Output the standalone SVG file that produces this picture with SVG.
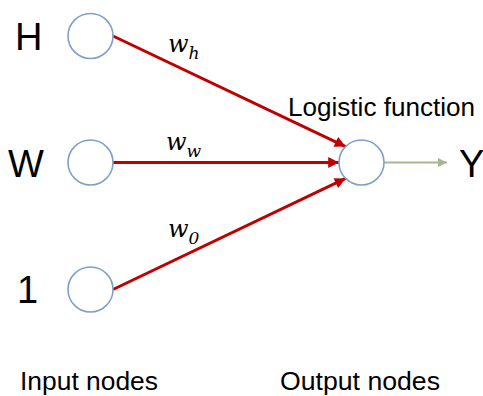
<svg xmlns="http://www.w3.org/2000/svg" width="483" height="396" viewBox="0 0 483 396">
<style>
.node{fill:#ffffff;stroke:#7F9FCB;stroke-width:1.6}
.big{font-family:"Liberation Sans",Arial,sans-serif;font-size:38px;fill:#000}
.lbl{font-family:"Liberation Sans",Arial,sans-serif;font-size:25px;fill:#000}
.w{font-family:"DejaVu Serif","Liberation Serif",serif;font-style:italic;font-size:24px;fill:#000}
.sub{font-size:17px}
.red{stroke:#C00000;stroke-width:3;fill:none}
.grn{stroke:#A3BA8E;stroke-width:2;fill:none}
</style>
<defs>
<marker id="ar" viewBox="0 0 10 10" refX="10" refY="5" markerWidth="4.2" markerHeight="3.6" orient="auto" markerUnits="strokeWidth">
<path d="M0,0 L10,5 L0,10 Z" fill="#C00000"/>
</marker>
<marker id="ag" viewBox="0 0 10 10" refX="10" refY="5" markerWidth="5" markerHeight="4.5" orient="auto" markerUnits="strokeWidth">
<path d="M0,0 L10,5 L0,10 Z" fill="#A3BA8E"/>
</marker>
</defs>
<g id="connectors">
<line class="red" x1="113" y1="36" x2="345.6" y2="146.6" marker-end="url(#ar)"/>
<line class="red" x1="113" y1="162.5" x2="339" y2="162.5" marker-end="url(#ar)"/>
<line class="red" x1="113" y1="289.5" x2="345.6" y2="178.4" marker-end="url(#ar)"/>
<line class="grn" x1="384" y1="162.5" x2="447" y2="162.5" marker-end="url(#ag)"/>
<text class="w" x="168" y="52">w<tspan class="sub" dy="7">h</tspan></text>
<text class="w" x="166" y="150">w<tspan class="sub" dy="7">w</tspan></text>
<text class="w" x="168" y="237">w<tspan class="sub" dy="7">0</tspan></text>
</g>
<g id="node-H">
<circle class="node" cx="90.5" cy="36" r="22.5"/>
<text class="big" x="15" y="50">H</text>
</g>
<g id="node-W">
<circle class="node" cx="90.5" cy="162.5" r="22.5"/>
<text class="big" x="8" y="177">W</text>
</g>
<g id="node-1">
<circle class="node" cx="90.5" cy="289.5" r="22.5"/>
<text class="big" x="17" y="303">1</text>
</g>
<g id="node-output">
<circle class="node" cx="361.5" cy="162.5" r="22.5"/>
<text class="lbl" x="288" y="116" textLength="187" lengthAdjust="spacingAndGlyphs">Logistic function</text>
</g>
<g id="node-Y">
<text class="big" x="459" y="177">Y</text>
</g>
<text class="lbl" x="20" y="390" textLength="138" lengthAdjust="spacingAndGlyphs">Input nodes</text>
<text class="lbl" x="280" y="390" textLength="160" lengthAdjust="spacingAndGlyphs">Output nodes</text>
</svg>
